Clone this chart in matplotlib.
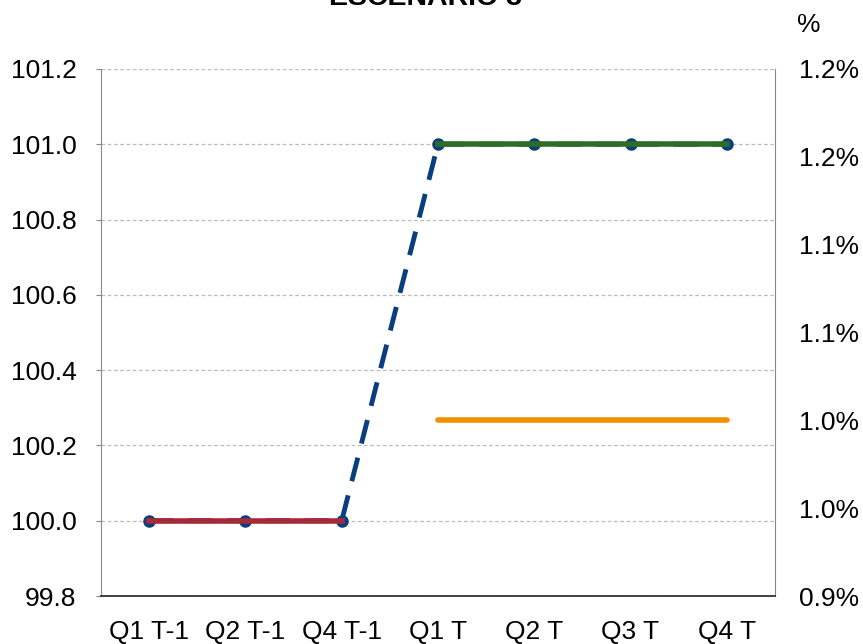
import numpy as np
import matplotlib
matplotlib.use("Agg")
import matplotlib.pyplot as plt

plt.rcParams['font.family'] = ['Liberation Sans', 'DejaVu Sans']

categories = ["Q1 T-1", "Q2 T-1", "Q4 T-1", "Q1 T", "Q2 T", "Q3 T", "Q4 T"]
index_all = [100.0, 100.0, 100.0, 101.0, 101.0, 101.0, 101.0]
index_prev = [100.0, 100.0, 100.0]
index_curr = [101.0, 101.0, 101.0, 101.0]
rate_curr = [1.0, 1.0, 1.0, 1.0]

left_ticks = [99.8, 100.0, 100.2, 100.4, 100.6, 100.8, 101.0, 101.2]
right_ticks = [0.9, 0.95, 1.0, 1.05, 1.1, 1.15, 1.2]
right_labels = ["0.9%", "1.0%", "1.0%", "1.1%", "1.1%", "1.2%", "1.2%"]

blue = "#0a3f7f"
red = "#a52a3a"
green = "#2d6e26"
orange = "#f29100"

fig = plt.figure(figsize=(8.63, 6.44), dpi=100)
ax = fig.add_axes([0.117, 0.0745, 0.781, 0.8185])
x = np.arange(len(categories))

ax.plot(x, index_all, color=blue, lw=3.5, ls=(0, (5, 3)), marker="o", ms=8, zorder=3)
ax.plot(x[:3], index_prev, color=red, lw=4, zorder=4)
ax.plot(x[3:], index_curr, color=green, lw=4, zorder=4)

ax.set_xlim(-0.5, len(categories) - 0.5)
ax.set_ylim(99.8, 101.2)
ax.set_yticks(left_ticks)
ax.set_yticklabels(["%.1f" % v for v in left_ticks])
ax.set_xticks(x)
ax.set_xticklabels(categories)
ax.grid(axis="y", color="#bdbdbd", ls=(0, (3, 2)), lw=0.9)
ax.set_axisbelow(True)
ax.tick_params(axis="y", length=3.6, color="#888888", labelsize=19, pad=14)
ax.tick_params(axis="x", length=0, labelsize=19, pad=17)
ax.spines["top"].set_visible(False)
ax.spines["left"].set_color("#888888")
ax.spines["right"].set_color("#888888")
ax.spines["bottom"].set_color("#222222")
ax.spines["bottom"].set_linewidth(1.2)

ax2 = ax.twinx()
ax2.plot(x[3:], rate_curr, color=orange, lw=4, solid_capstyle="round", zorder=4)
ax2.set_ylim(0.9, 1.2)
ax2.set_yticks(right_ticks)
ax2.set_yticklabels(right_labels)
ax2.tick_params(axis="y", length=0, labelsize=19, pad=17)
for s in ax2.spines.values():
    s.set_visible(False)

fig.text(0.493, 0.992, "ESCENARIO 3", ha="center", va="baseline", fontsize=20.5, fontweight="bold")
fig.text(0.937, 0.961, "%", ha="center", va="center", fontsize=19)

fig.savefig("out.png", dpi=100)
